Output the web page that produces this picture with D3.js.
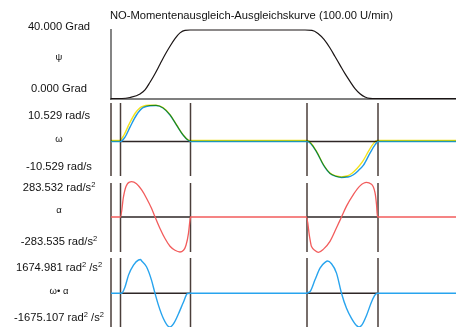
<!DOCTYPE html>
<html><head><meta charset="utf-8">
<script src="https://cdn.jsdelivr.net/npm/d3@7/dist/d3.min.js"></script>
<style>
html,body{margin:0;padding:0;background:#fff;}
svg{display:block;font-family:"Liberation Sans",Arial,sans-serif;}
</style>
</head><body>
<svg id="c" width="456" height="327"></svg>
<script>
// ---------------- data ----------------
const title = "NO-Momentenausgleich-Ausgleichskurve (100.00 U/min)";
const timeDomain = [0, 690];                 // ms, visible window
const markerTimes = [19, 159, 392, 534];     // motion start/end markers (ms)
const brackets = [[19, 159], [392, 534]];

const psiDomain = [0, 40];
const omegaDomain = [-10.529, 10.529];
const alphaDomain = [-283.535, 283.532];
const powerDomain = [-1675.107, 1674.981];

// psi (Grad) vs t
const psiData = [[0,0],[22,0],[38,0.6],[58,2.6],[68,5],[78,9.5],[88,14.5],[98,20],[108,25.5],[118,30.5],[128,35],[138,38.3],[148,39.8],[158,40],
  [388,40],[402,39.8],[414,38],[426,34.5],[438,29.5],[448,24.5],[458,19.5],[468,14.5],[478,10],[488,5.8],[498,2.8],[508,0.9],[518,0.1],[528,0],[690,0]];

// omega (rad/s), blue trace
const omegaBlue = [[0,0],[19,0],[28,1.3],[38,4.2],[51,7.75],[64,9.9],[78,10.44],[90,10.529],[104,9.8],[118,7.75],[131,4.8],[144,1.9],[154,0.4],[160,0],
  [393,0],[411,-3.0],[425,-6.9],[438,-9.35],[450,-10.2],[461,-10.529],[474,-10.4],[484,-9.8],[494,-8.6],[505,-6.9],[518,-3.4],[528,-1.0],[534,0],[690,0]];
// omega (rad/s), yellow trace
const omegaYellow = [[0,0.3],[17,0.3],[26,1.9],[36,5.0],[49,8.4],[62,10.2],[76,10.6],[90,10.6],[104,9.9],[118,7.85],[131,4.9],[144,2.0],[154,0.5],[160,0.3],
  [393,0.3],[411,-2.9],[425,-6.8],[438,-9.25],[450,-10.1],[461,-10.35],[472,-10.1],[482,-9.3],[492,-7.9],[503,-5.9],[516,-2.6],[526,-0.4],[532,0.3],[690,0.3]];

// alpha (rad/s^2)
const alphaData = [[0,0],[19,0],[25,164],[30,245],[37,281],[41,283.5],[51,267],[61,219],[71,151],[81,70],[88,2],[98,-92],[108,-173],[118,-235],[128,-267],[138,-281],[145,-267],[150,-227],[155,-130],[158,-24],[159,0],
  [391,0],[397,-155],[401,-237],[408,-269],[415,-283.5],[425,-258],[438,-196],[451,-87],[461,0],[471,87],[485,182],[498,250],[511,278],[521,263],[528,196],[531,101],[533,0],[690,0]];

// omega * alpha (rad^2/s^2)
const powerData = [[0,0],[21,0],[28,315],[35,900],[45,1400],[55,1650],[59,1675],[61,1615],[71,1315],[81,650],[88,0],[95,-600],[105,-1265],[115,-1650],[118,-1675],[125,-1515],[135,-1015],[145,-435],[153,-15],[158,0],
  [391,0],[398,80],[408,665],[418,1250],[428,1530],[433,1600],[441,1465],[451,1000],[461,0],[471,-750],[481,-1250],[491,-1600],[496,-1675],[501,-1600],[511,-1100],[521,-435],[528,-85],[533,0],[690,0]];

// left labels: [top, symbol, bottom]; each text is list of [string, superscript?]
const psiLabels = [[["40.000 Grad",0]], [["ψ",0]], [["0.000 Grad",0]]];
const omegaLabels = [[["10.529 rad/s",0]], [["ω",0]], [["-10.529 rad/s",0]]];
const alphaLabels = [[["283.532 rad/s",0],["2",1]], [["α",0]], [["-283.535 rad/s",0],["2",1]]];
const powerLabels = [[["1674.981 rad",0],["2",1],[" /s",0],["2",1]], [["ω• α",0]], [["-1675.107 rad",0],["2",1],[" /s",0],["2",1]]];

// ---------------- layout ----------------
const svg = d3.select("#c");
const x = d3.scaleLinear().domain(timeDomain).range([111, 456]);

const panels = [
  {labels: psiLabels, y: d3.scaleLinear().domain(psiDomain).range([98.5, 30]), ly: [30, 60, 92]},
  {labels: omegaLabels, y: d3.scaleLinear().domain(omegaDomain).range([177.5, 105.5]), ly: [119, 142, 170], v: [103, 176]},
  {labels: alphaLabels, y: d3.scaleLinear().domain(alphaDomain).range([252.3, 181.7]), ly: [191, 213, 245], v: [183, 252]},
  {labels: powerLabels, y: d3.scaleLinear().domain(powerDomain).range([327, 259.5]), ly: [271, 294, 321], v: [258, 332]}
];

// title
svg.append("text").attr("x", 110).attr("y", 18.5).attr("font-size", 11.2).attr("fill", "#111").text(title);

// left labels
panels.forEach(p => {
  p.labels.forEach((segs, i) => {
    const t = svg.append("text").attr("x", 59).attr("y", p.ly[i]).attr("text-anchor", "middle")
      .attr("font-size", i === 1 ? 9.5 : 11.2).attr("fill", "#111");
    let up = false;
    segs.forEach(([s, sup]) => {
      const ts = t.append("tspan").text(s);
      if (sup && !up) { ts.attr("dy", -4.5).attr("font-size", 7.5); up = true; }
      else if (!sup && up) { ts.attr("dy", 4.5); up = false; }
      else if (sup) ts.attr("font-size", 7.5);
    });
  });
});

// ---- psi panel ----
const pPsi = panels[0];
svg.append("line").attr("x1", x(0) - 1).attr("x2", 456).attr("y1", pPsi.y(0) + 0.5).attr("y2", pPsi.y(0) + 0.5)
  .attr("stroke", "#555").attr("stroke-width", 1.3);
svg.append("line").attr("x1", x(0)).attr("x2", x(0)).attr("y1", pPsi.y(40) - 1).attr("y2", pPsi.y(0) + 1)
  .attr("stroke", "#333").attr("stroke-width", 1.2);
const line = (y) => d3.line().x(d => x(d[0])).y(d => y(d[1])).curve(d3.curveMonotoneX);
svg.append("path").attr("d", line(pPsi.y)(psiData)).attr("fill", "none").attr("stroke", "#1a1414").attr("stroke-width", 1.2);

// ---- lower panels: brackets ----
function frame(p) {
  brackets.forEach(b => {
    svg.append("line").attr("x1", x(b[0])).attr("x2", x(b[1])).attr("y1", p.y(0)).attr("y2", p.y(0))
      .attr("stroke", "#2e2626").attr("stroke-width", 1.3);
  });
  [0, ...markerTimes].forEach(t => {
    svg.append("line").attr("x1", x(t)).attr("x2", x(t)).attr("y1", p.v[0]).attr("y2", p.v[1])
      .attr("stroke", "#4a3e3a").attr("stroke-width", 1.5);
  });
}

const pO = panels[1], pA = panels[2], pP = panels[3];
frame(pO); frame(pA); frame(pP);

svg.append("path").attr("d", line(pO.y)(omegaBlue)).attr("fill", "none").attr("stroke", "#1f9ae8").attr("stroke-width", 1.4);
svg.append("path").attr("d", line(pO.y)(omegaYellow)).attr("fill", "none").attr("stroke", "#f2e21e").attr("stroke-width", 1.4)
  .style("mix-blend-mode", "multiply");

svg.append("path").attr("d", line(pA.y)(alphaData)).attr("fill", "none").attr("stroke", "#f25c5c").attr("stroke-width", 1.3);
svg.append("path").attr("d", line(pP.y)(powerData)).attr("fill", "none").attr("stroke", "#28a4ee").attr("stroke-width", 1.4);
</script>
</body></html>
